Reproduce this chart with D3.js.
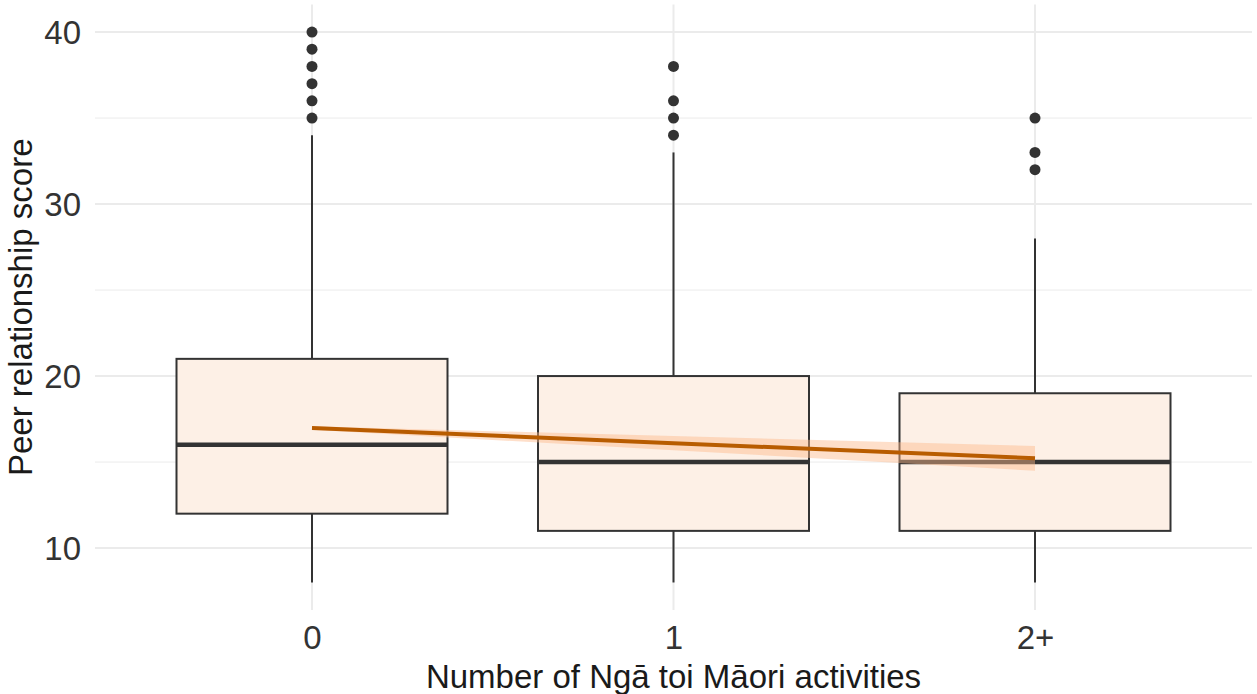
<!DOCTYPE html>
<html>
<head>
<meta charset="utf-8">
<script src="https://cdn.jsdelivr.net/npm/d3@7.9.0/dist/d3.min.js"></script>
<style>
  html, body { margin: 0; padding: 0; background: #fff; }
  svg { display: block; font-family: "Liberation Sans", Arial, sans-serif; }
</style>
</head>
<body>
<svg id="chart" width="1257" height="694"></svg>
<script>
const groups = ['0', '1', '2+'];
const lowerWhisker = [8, 8, 8];
const q1 = [12, 11, 11];
const median = [16, 15, 15];
const q3 = [21, 20, 19];
const upperWhisker = [34, 33, 28];
const outliers = [
  [35, 36, 37, 38, 39, 40],
  [34, 35, 36, 38],
  [32, 33, 35]
];
// linear trend with confidence band, at each group position
const trendFit = [16.98, 16.1, 15.22];
const trendLow = [16.88, 15.69, 14.49];
const trendHigh = [17.08, 16.51, 15.94];
const yTicks = [10, 20, 30, 40];
const yMinorTicks = [15, 25, 35];

const width = 1257, height = 694;
const panel = { left: 95, right: 1252, top: 4.5, bottom: 610 };

const svg = d3.select('#chart');

const x = d3.scalePoint()
  .domain(groups)
  .range([312, 1035]);
const y = d3.scaleLinear()
  .domain([6.4, 41.6])
  .range([panel.bottom, panel.top]);

// gridlines
const grid = svg.append('g');
grid.selectAll('line.minor')
  .data(yMinorTicks)
  .join('line')
  .attr('x1', panel.left).attr('x2', panel.right)
  .attr('y1', d => y(d)).attr('y2', d => y(d))
  .attr('stroke', '#ebebeb').attr('stroke-width', 1);
grid.selectAll('line.major')
  .data(yTicks)
  .join('line')
  .attr('x1', panel.left).attr('x2', panel.right)
  .attr('y1', d => y(d)).attr('y2', d => y(d))
  .attr('stroke', '#ebebeb').attr('stroke-width', 2);
grid.selectAll('line.vert')
  .data(groups)
  .join('line')
  .attr('x1', d => x(d)).attr('x2', d => x(d))
  .attr('y1', panel.top).attr('y2', panel.bottom)
  .attr('stroke', '#ebebeb').attr('stroke-width', 2);

// y axis labels
const yAxis = svg.append('g')
  .attr('transform', `translate(${panel.left},0)`)
  .call(d3.axisLeft(y).tickValues(yTicks).tickSize(0).tickPadding(14));
yAxis.select('.domain').remove();
yAxis.selectAll('text')
  .attr('font-size', 33).attr('fill', '#333')
  .attr('dy', '0.36em')
  .attr('font-family', '"Liberation Sans", Arial, sans-serif');

// x axis labels
const xAxis = svg.append('g')
  .attr('transform', `translate(0,${panel.bottom})`)
  .call(d3.axisBottom(x).tickSize(0).tickPadding(0));
xAxis.select('.domain').remove();
xAxis.selectAll('text')
  .attr('y', 39).attr('dy', null)
  .attr('font-size', 33).attr('fill', '#333')
  .attr('font-family', '"Liberation Sans", Arial, sans-serif');

// axis titles
svg.append('text')
  .attr('x', (panel.left + panel.right) / 2)
  .attr('y', 688)
  .attr('text-anchor', 'middle')
  .attr('font-size', 33).attr('fill', '#1a1a1a')
  .text('Number of Ngā toi Māori activities');
svg.append('text')
  .attr('transform', `translate(32,${(panel.top + panel.bottom) / 2}) rotate(-90)`)
  .attr('text-anchor', 'middle')
  .attr('font-size', 33).attr('fill', '#1a1a1a')
  .text('Peer relationship score');

// boxplots
const boxHalf = 135.5;
const stats = groups.map((g, i) => ({
  g, lo: lowerWhisker[i], q1: q1[i], med: median[i], q3: q3[i], hi: upperWhisker[i], out: outliers[i]
}));
const boxes = svg.append('g').selectAll('g').data(stats).join('g');
boxes.append('line')
  .attr('x1', d => x(d.g)).attr('x2', d => x(d.g))
  .attr('y1', d => y(d.hi)).attr('y2', d => y(d.q3))
  .attr('stroke', '#333').attr('stroke-width', 2);
boxes.append('line')
  .attr('x1', d => x(d.g)).attr('x2', d => x(d.g))
  .attr('y1', d => y(d.q1)).attr('y2', d => y(d.lo))
  .attr('stroke', '#333').attr('stroke-width', 2);
boxes.append('rect')
  .attr('x', d => x(d.g) - boxHalf)
  .attr('width', boxHalf * 2)
  .attr('y', d => y(d.q3))
  .attr('height', d => y(d.q1) - y(d.q3))
  .attr('fill', '#fdf0e6')
  .attr('stroke', '#333').attr('stroke-width', 2);
boxes.append('line')
  .attr('x1', d => x(d.g) - boxHalf).attr('x2', d => x(d.g) + boxHalf)
  .attr('y1', d => y(d.med)).attr('y2', d => y(d.med))
  .attr('stroke', '#333').attr('stroke-width', 4.5);
boxes.selectAll('circle')
  .data(d => d.out.map(v => ({ g: d.g, v })))
  .join('circle')
  .attr('cx', d => x(d.g)).attr('cy', d => y(d.v))
  .attr('r', 5.5).attr('fill', '#333');

// trend band and line
const trend = groups.map((g, i) => ({ g, fit: trendFit[i], lo: trendLow[i], hi: trendHigh[i] }));
svg.append('path')
  .datum(trend)
  .attr('d', d3.area().x(d => x(d.g)).y0(d => y(d.lo)).y1(d => y(d.hi)))
  .attr('fill', '#fdb98a').attr('fill-opacity', 0.45);
svg.append('path')
  .datum(trend)
  .attr('d', d3.line().x(d => x(d.g)).y(d => y(d.fit)))
  .attr('fill', 'none')
  .attr('stroke', '#b85c00').attr('stroke-width', 4);
</script>
</body>
</html>
